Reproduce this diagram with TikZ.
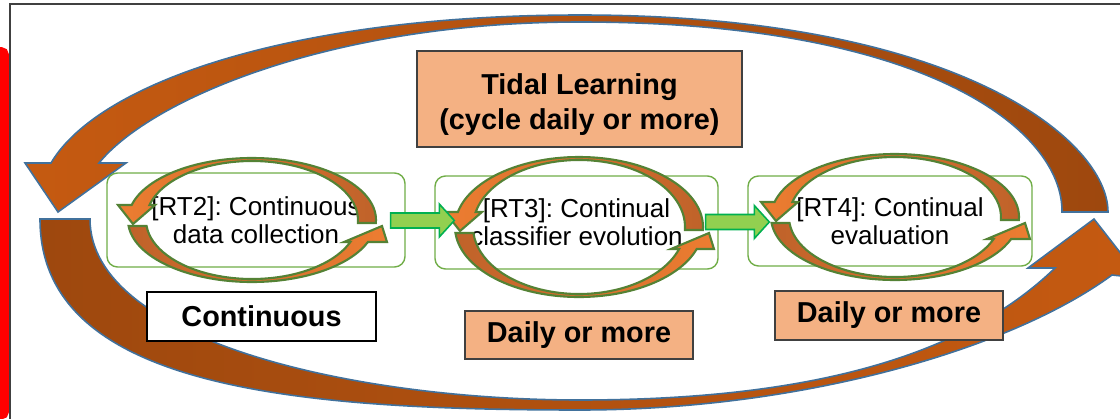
\documentclass[tikz,border=0pt]{standalone}
\usepackage{fontspec}
\setmainfont{Liberation Sans}
\usetikzlibrary{calc}
\frenchspacing

\definecolor{bigorange}{HTML}{C55A11}
\definecolor{bigbrown}{HTML}{9E480E}
\definecolor{bigline}{HTML}{41719C}
\definecolor{cycorange}{HTML}{ED7D31}
\definecolor{cycbrown}{HTML}{BF622A}
\definecolor{cycline}{HTML}{548235}
\definecolor{boxgreen}{HTML}{70AD47}
\definecolor{peach}{HTML}{F4B183}
\definecolor{framegray}{HTML}{404040}
\definecolor{arrowfill}{HTML}{92D050}
\definecolor{arrowline}{HTML}{00B050}

\newcommand{\pxu}{0.02cm}

% two curved arrows round one step: centre x, centre y, y radius
\newcommand{\cyclearrows}[3]{%
  \pgfmathsetmacro{\ryin}{#3-3}%
  \pgfmathsetmacro{\aheadout}{-180+asin(15/#3)}%
  \pgfmathsetmacro{\aheadin}{-180+asin(15/\ryin)}%
  \pgfmathsetmacro{\atailout}{asin(3/#3)}%
  \pgfmathsetmacro{\atailin}{asin(3/\ryin)}%
  \pgfmathsetmacro{\blowout}{180-asin(6/#3)}%
  \pgfmathsetmacro{\blowin}{180-asin(6/\ryin)}%
  \pgfmathsetmacro{\bheadout}{asin(22/#3)}%
  \pgfmathsetmacro{\bheadin}{asin(22/\ryin)}%
  \begin{scope}[shift={(#1,#2)}]
    \path[cycarrow, left color=cycorange, right color=cycbrown]
      (\atailout:124 and #3) arc[start angle=\atailout, end angle=\aheadout, x radius=124, y radius=#3]
      -- (-134,-15) -- (-119,4) -- (-97,-15)
      -- (\aheadin:106 and \ryin) arc[start angle=\aheadin, end angle=\atailin, x radius=106, y radius=\ryin]
      -- cycle;
    \path[cycarrow, left color=cycbrown, right color=cycorange]
      (\blowout:124 and #3) arc[start angle=\blowout, end angle=\bheadout, x radius=124, y radius=#3]
      -- (135,22) -- (130,6) -- (92,22)
      -- (\bheadin:106 and \ryin) arc[start angle=\bheadin, end angle=\blowin, x radius=106, y radius=\ryin]
      -- cycle;
  \end{scope}}

% flat green block arrow between two coordinates
\newcommand{\blockarrow}[2]{%
  \draw[blockarrow] ($(#1)+(0,-7.5)$) -- ($(#2)+(-15,-7.5)$) -- ($(#2)+(-15,-16.5)$)
    -- (#2) -- ($(#2)+(-15,16.5)$) -- ($(#2)+(-15,7.5)$) -- ($(#1)+(0,7.5)$) -- cycle;}

\begin{document}
\begin{tikzpicture}[
		x=\pxu, y=-\pxu,
		rtbox/.style={draw=boxgreen, line width=0.8pt, rounded corners=6pt, fill=white,
			align=center, inner sep=0pt, font=\fontsize{14.8}{15.9}\selectfont,
			execute at begin node=\rule{0pt}{16.5pt}},
		labelbox/.style={draw=framegray, line width=0.8pt, fill=peach, align=center,
			inner sep=0pt, font=\bfseries\fontsize{16.4}{19.8}\selectfont},
		bigarrow/.style={draw=bigline, line width=0.9pt},
		cycarrow/.style={draw=cycline, line width=1.2pt},
		blockarrow/.style={draw=arrowline, fill=arrowfill, line width=0.9pt},
		]
		\useasboundingbox (0,0) rectangle (1120,419);
		\draw[framegray, line width=0.8pt] (10,4) rectangle (1140,440);
		\draw[red, line width=5pt, rounded corners=2pt] (-300,51.5) rectangle (4.5,415);

		% the big tidal cycle
		\path[bigarrow, left color=bigorange, right color=bigbrown]
			(1062,212) .. controls (1063,132) and (931,22) .. (580,22)
			.. controls (330,22) and (150,100) .. (99,163)
			-- (126,163) -- (58,212) -- (25,163) -- (51,163)
			.. controls (100,80) and (300,15) .. (580,15)
			.. controls (959,15) and (1108,141) .. (1108,212) -- cycle;
		\path[bigarrow, left color=bigbrown, right color=bigorange]
			(40,219) .. controls (40,386) and (287,410) .. (580,410)
			.. controls (800,410) and (1010,350) .. (1112,275)
			-- (1140,278) -- (1094,219) -- (1028,268) -- (1055,268)
			.. controls (960,360) and (800,400) .. (580,400)
			.. controls (353,400) and (90,340) .. (90,219) -- cycle;

		% the three steps
		\node[rtbox, minimum width=298*\pxu, minimum height=94*\pxu] (rt2) at (256,220)
			{[RT2]: Continuous\\data collection};
		\node[rtbox, minimum width=283*\pxu, minimum height=93*\pxu] (rt3) at (576.5,222.5)
			{[RT3]: Continual\\classifier evolution};
		\node[rtbox, minimum width=284*\pxu, minimum height=90*\pxu] (rt4) at (890,221)
			{[RT4]: Continual\\evaluation};

		\cyclearrows{252}{220}{62}
		\cyclearrows{579}{227}{70}
		\cyclearrows{895}{217}{63}

		\coordinate (a23s) at ($(rt2.east)+(-15,0.5)$);
		\coordinate (a23t) at ($(rt3.west)+(20,-2)$);
		\coordinate (a34s) at ($(rt3.east)+(-13,-0.5)$);
		\coordinate (a34t) at ($(rt4.west)+(22,1)$);
		\blockarrow{a23s}{a23t}
		\blockarrow{a34s}{a34t}

		% rates
		\node[labelbox, minimum width=325*\pxu, minimum height=96*\pxu] (tidal) at (579.5,99)
			{\rule{0pt}{18.5pt}Tidal Learning\\(cycle daily or more)};
		\node[labelbox, fill=white, draw=black, minimum width=229*\pxu, minimum height=49*\pxu]
			(cont) at (261.5,316.5) {Continuous};
		\node[labelbox, minimum width=228*\pxu, minimum height=48*\pxu] (daily3) at (579,335)
			{Daily or more};
		\node[labelbox, minimum width=228*\pxu, minimum height=49*\pxu] (daily4) at (889,315.5)
			{Daily or more};
\end{tikzpicture}
\end{document}
